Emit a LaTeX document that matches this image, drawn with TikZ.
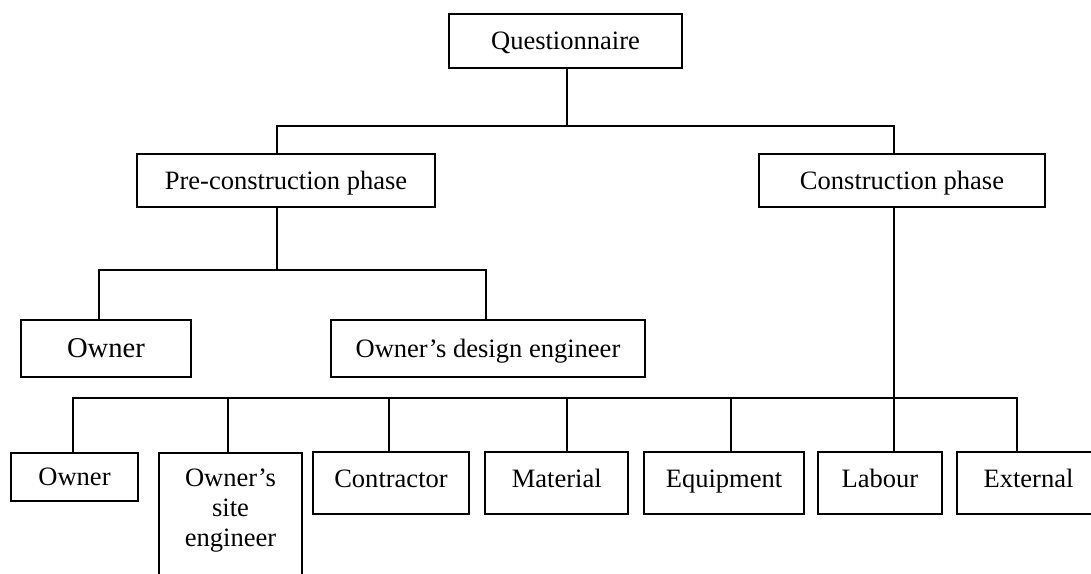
\documentclass[tikz,border=0pt]{standalone}
\usepackage{fontspec}
\setmainfont{Liberation Serif}
\usepackage{tikz}
\usetikzlibrary{positioning,calc}

\begin{document}
\begin{tikzpicture}[x=0.02cm, y=-0.02cm,
    frame/.style={draw, line width=1.1pt, inner sep=0pt, font=\fontsize{15.1}{17}\selectfont},
    box/.style={frame, text height=10pt, text depth=0pt},
    lowbox/.style={box, minimum height=1.24cm, text depth=4.6pt},
    link/.style={line width=1.1pt}]
    \useasboundingbox (0,0) rectangle (1091,574);
    \clip (0,0) rectangle (1091,574);

    % Top level
    \node[box, minimum width=4.66cm, minimum height=1.08cm] (quest) at (565.5,41) {Questionnaire};

    % Phases
    \node[box, minimum width=5.95cm, minimum height=1.06cm] (pre) at (286,180.5) {Pre-construction phase};
    \node[box, minimum width=5.71cm, minimum height=1.06cm] (cons) at (902,180.5) {Construction phase};

    % Pre-construction respondents
    \node[box, minimum width=3.39cm, minimum height=1.14cm, font=\fontsize{16.3}{18}\selectfont, text height=10.8pt] (ownA) at (106,348.5) {Owner};
    \node[box, minimum width=6.27cm, minimum height=1.14cm] (design) at (488,348.5) {Owner's design engineer};

    % Construction respondents
    \node[box, minimum width=2.54cm, minimum height=0.96cm, text depth=-1pt] (own) at (74.5,477) {Owner};
    \node[frame, minimum width=2.86cm, anchor=north, align=center, inner ysep=9pt, text depth=2.4cm] (site) at (230.5,452) {Owner's\\site\\engineer};
    \node[lowbox, minimum width=3.12cm] (contr) at (391,483) {Contractor};
    \node[lowbox, minimum width=2.87cm] (mat) at (556.7,483) {Material};
    \node[lowbox, minimum width=3.21cm] (equip) at (724,483) {Equipment};
    \node[lowbox, minimum width=2.48cm] (lab) at (880,483) {Labour};
    \node[lowbox, minimum width=2.86cm] (ext) at (1028.5,483) {External};

    % Connections
    \coordinate (j1) at (567,126);
    \coordinate (j2) at (277,270);
    \coordinate (j3) at (894,398);
    \draw[link] (quest.south -| j1) -- (j1);
    \foreach \sx/\n in {277/pre, 894/cons}
        \draw[link] (\n.north -| \sx,0) |- (j1);
    \draw[link] (pre.south -| j2) -- (j2);
    \foreach \sx/\n in {99/ownA, 486/design}
        \draw[link] (\n.north -| \sx,0) |- (j2);
    \draw[link] (cons.south -| j3) -- (j3);
    \foreach \sx/\n in {73/own, 228/site, 389/contr, 567/mat, 731/equip, 894/lab, 1017/ext}
        \draw[link] (\n.north -| \sx,0) |- (j3);
\end{tikzpicture}
\end{document}
